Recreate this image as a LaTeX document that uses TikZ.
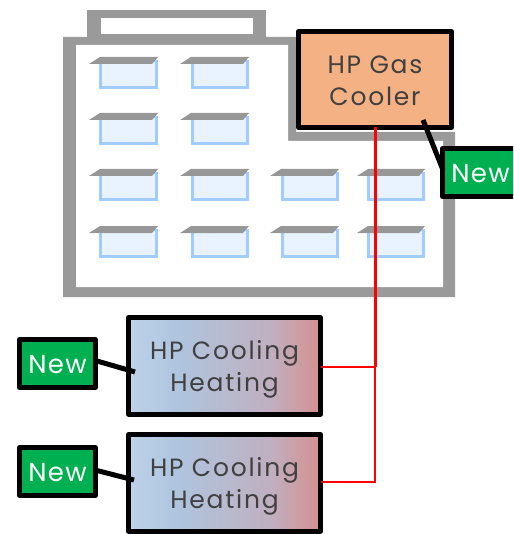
\documentclass[tikz,border=0pt]{standalone}
\usepackage{fontspec}
\setmainfont{Poppins}
\newfontfamily\unitfont[LetterSpace=7]{Poppins}
\newfontfamily\badgefont[LetterSpace=5]{Poppins}
\definecolor{wall}{HTML}{9A9A9A}
\definecolor{pane}{HTML}{E8F3FF}
\definecolor{paneedge}{HTML}{A0CCFF}
\definecolor{hood}{HTML}{979797}
\definecolor{cooler}{HTML}{F4B183}
\definecolor{badge}{HTML}{00B050}
\definecolor{label}{HTML}{404040}
\definecolor{hpa}{HTML}{BDD2E9}
\definecolor{hpb}{HTML}{AFC5DF}
\definecolor{hpc}{HTML}{D49090}
\definecolor{hpm}{HTML}{C0AFC0}
\pgfdeclarehorizontalshading{hpgradb}{100bp}{
  color(0bp)=(hpa); color(25bp)=(hpa); color(37.5bp)=(hpb); color(62bp)=(hpm); color(75bp)=(hpc); color(100bp)=(hpc)}
\tikzset{
  unitbox/.style={draw=black,line width=5pt,line join=round,inner sep=0pt,outer sep=0pt,anchor=north west,
    align=center,text=label,text height=51.4pt,text depth=0pt,font=\unitfont\fontsize{25}{32}\selectfont},
  hpbox/.style={unitbox,minimum width=192pt,minimum height=96.5pt,shading=hpgradb},
  newbox/.style={draw=black,line width=5pt,line join=round,fill=badge,inner sep=0pt,outer sep=0pt,anchor=north west,
    minimum width=76pt,minimum height=48pt,text=white,text height=20.5pt,text depth=0pt,
    font=\badgefont\fontsize{26}{28}\selectfont},
  tie/.style={draw=black,line width=5pt},
  pipemain/.style={draw=red,line width=2.4pt},
  pipe/.style={draw=red,line width=2pt},
  winpane/.style={draw=paneedge,fill=pane,line width=2.6pt},
  winhood/.style={fill=hood,draw=none},
}
\begin{document}
\begin{tikzpicture}[x=1pt,y=-1pt]
\useasboundingbox (0,0) rectangle (513,534);
\clip (0,0) rectangle (513,534);
% building
\fill[wall] (87,10) rectangle (266,40);
\fill[white] (101,18) rectangle (253,34);
\fill[wall] (63,37) -- (296,37) -- (296,132) -- (455,132) -- (455,297) -- (63,297) -- cycle;
\fill[white] (76,45) -- (288,45) -- (288,141) -- (443,141) -- (443,287) -- (76,287) -- cycle;
% windows
\foreach \l/\r/\h in {99/158/89,191/249/180,281/339/270,367/425/357}{
  \foreach \t in {57,113,169,226}{
    \ifnum\l>270 \ifnum\t<169 \else
      \draw[winpane] (\l+1.3,\t+4) rectangle (\r-1.3,\t+30.7);
      \fill[winhood] (\h,\t+7) -- (\h+11,\t) -- (\r,\t) -- (\r-6,\t+7) -- cycle;
    \fi\else
      \draw[winpane] (\l+1.3,\t+4) rectangle (\r-1.3,\t+30.7);
      \fill[winhood] (\h,\t+7) -- (\h+11,\t) -- (\r,\t) -- (\r-6,\t+7) -- cycle;
    \fi
  }
}
% named tie ends
\coordinate (coolerTie) at (423,120);
\coordinate (newATie) at (443,170);
\coordinate (hpOneTie) at (135,372);
\coordinate (newBTie) at (97,361);
\coordinate (hpTwoTie) at (134,480);
\coordinate (newCTie) at (95,470);
\coordinate (riserA) at (375.5,366.5);
\coordinate (riserB) at (375,366.5);
\coordinate (riserC) at (375,482);
% units
\node[unitbox,fill=cooler,minimum width=153pt,minimum height=96pt] (gas) at (298.5,31.5) {HP Gas\\Cooler};
\node[hpbox] (hpone) at (128.5,317.5) {HP Cooling\\Heating};
\node[hpbox] (hptwo) at (128.5,434.5) {HP Cooling\\Heating};
% pipes
\draw[pipemain] (gas.south -| riserA) -- (riserA);
\draw[pipe] (hpone.east |- riserA) -- (riserA);
\draw[pipe] (riserB) -- (riserC) -- (hptwo.east |- riserC);
% badges
\node[newbox] (newa) at (442.5,148.5) {New};
\node[newbox] (newb) at (19.5,339.5) {New};
\node[newbox] (newc) at (19.5,447.5) {New};
\draw[tie] (coolerTie) -- (newATie);
\draw[tie] (newBTie) -- (hpOneTie);
\draw[tie] (newCTie) -- (hpTwoTie);
\end{tikzpicture}
\end{document}
